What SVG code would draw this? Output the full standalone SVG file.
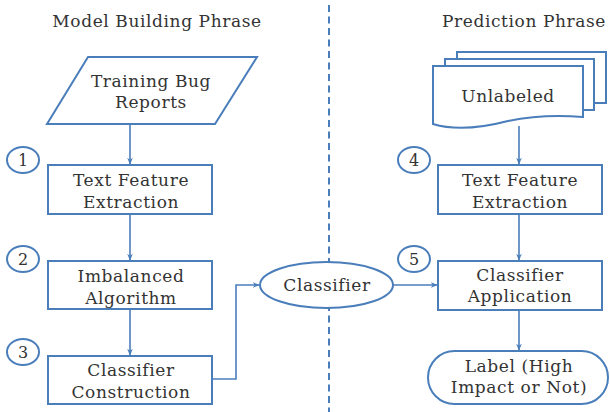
<svg xmlns="http://www.w3.org/2000/svg" width="610" height="412" viewBox="0 0 610 412">
<defs>
<style>
.s{fill:#fff;stroke:#4a7ebb;stroke-width:2}
.c{fill:none;stroke:#4a7ebb;stroke-width:1.6}
.t{font-family:"DejaVu Serif",serif;font-size:17px;fill:#333;text-anchor:middle;letter-spacing:0.6px}
.n{font-family:"DejaVu Serif",serif;font-size:16px;fill:#333;text-anchor:middle}
</style>
<marker id="ah" viewBox="0 0 10 10" refX="9" refY="5" markerWidth="7" markerHeight="7" markerUnits="userSpaceOnUse" orient="auto">
<path d="M0,1 L10,5 L0,9 L3,5 Z" fill="#4a7ebb"/>
</marker>
</defs>
<rect width="610" height="412" fill="#fff"/>
<text class="t" x="157" y="27">Model Building Phrase</text>
<text class="t" x="524" y="27">Prediction Phrase</text>
<line x1="329" y1="5" x2="329" y2="412" stroke="#4a7ebb" stroke-width="2" stroke-dasharray="7,4.5"/>
<g id="connectors">
<line class="c" x1="130" y1="124" x2="130" y2="164" marker-end="url(#ah)"/>
<line class="c" x1="130" y1="214" x2="130" y2="260" marker-end="url(#ah)"/>
<line class="c" x1="130" y1="309" x2="130" y2="355" marker-end="url(#ah)"/>
<polyline class="c" points="212,379 236,379 236,285 259,285" marker-end="url(#ah)"/>
<line class="c" x1="393" y1="285" x2="437" y2="285" marker-end="url(#ah)"/>
<line class="c" x1="519" y1="126" x2="519" y2="164" marker-end="url(#ah)"/>
<line class="c" x1="519" y1="214" x2="519" y2="260" marker-end="url(#ah)"/>
<line class="c" x1="519" y1="310" x2="519" y2="350" marker-end="url(#ah)"/>
</g>
<g id="training">
<polygon class="s" points="88,57 257,57 215,124 47,124"/>
<text class="t" x="151" y="87">Training Bug</text>
<text class="t" x="151" y="108">Reports</text>
</g>
<g id="n1"><ellipse class="s" cx="23" cy="160" rx="16" ry="13"/><text class="n" x="23" y="166">1</text></g>
<g id="n2"><ellipse class="s" cx="23" cy="259" rx="16" ry="13"/><text class="n" x="23" y="265">2</text></g>
<g id="n3"><ellipse class="s" cx="23" cy="352" rx="16" ry="13"/><text class="n" x="23" y="358">3</text></g>
<g id="n4"><ellipse class="s" cx="414" cy="160" rx="16" ry="13"/><text class="n" x="414" y="166">4</text></g>
<g id="n5"><ellipse class="s" cx="414" cy="259" rx="16" ry="13"/><text class="n" x="414" y="265">5</text></g>
<g id="tfe1">
<rect class="s" x="48" y="165" width="164" height="49"/>
<text class="t" x="131" y="186">Text Feature</text>
<text class="t" x="131" y="208">Extraction</text>
</g>
<g id="imb">
<rect class="s" x="48" y="261" width="164" height="48"/>
<text class="t" x="131" y="282">Imbalanced</text>
<text class="t" x="131" y="304">Algorithm</text>
</g>
<g id="cc">
<rect class="s" x="48" y="356" width="164" height="48"/>
<text class="t" x="131" y="376">Classifier</text>
<text class="t" x="131" y="398">Construction</text>
</g>
<g id="classifier">
<ellipse class="s" cx="326.5" cy="285" rx="66.5" ry="23"/>
<text class="t" x="327" y="291">Classifier</text>
</g>
<g id="unlabeled">
<path class="s" d="M457,52 H606 V103 H594 V59 H457 Z"/>
<path class="s" d="M445,59 H594 V110 H583 V66 H445 Z"/>
<path class="s" d="M433,66 H583 V117 C560,115 532,116 508,121 C485,127 456,131 433,124 Z"/>
<text class="t" x="508" y="102">Unlabeled</text>
</g>
<g id="tfe2">
<rect class="s" x="438" y="165" width="164" height="49"/>
<text class="t" x="520" y="186">Text Feature</text>
<text class="t" x="520" y="208">Extraction</text>
</g>
<g id="app">
<rect class="s" x="438" y="261" width="164" height="49"/>
<text class="t" x="520" y="281">Classifier</text>
<text class="t" x="520" y="302">Application</text>
</g>
<g id="label">
<rect class="s" x="428" y="351" width="180" height="53" rx="26.5" ry="26.5"/>
<text class="t" x="519" y="372">Label (High</text>
<text class="t" x="519" y="393">Impact or Not)</text>
</g>
</svg>
